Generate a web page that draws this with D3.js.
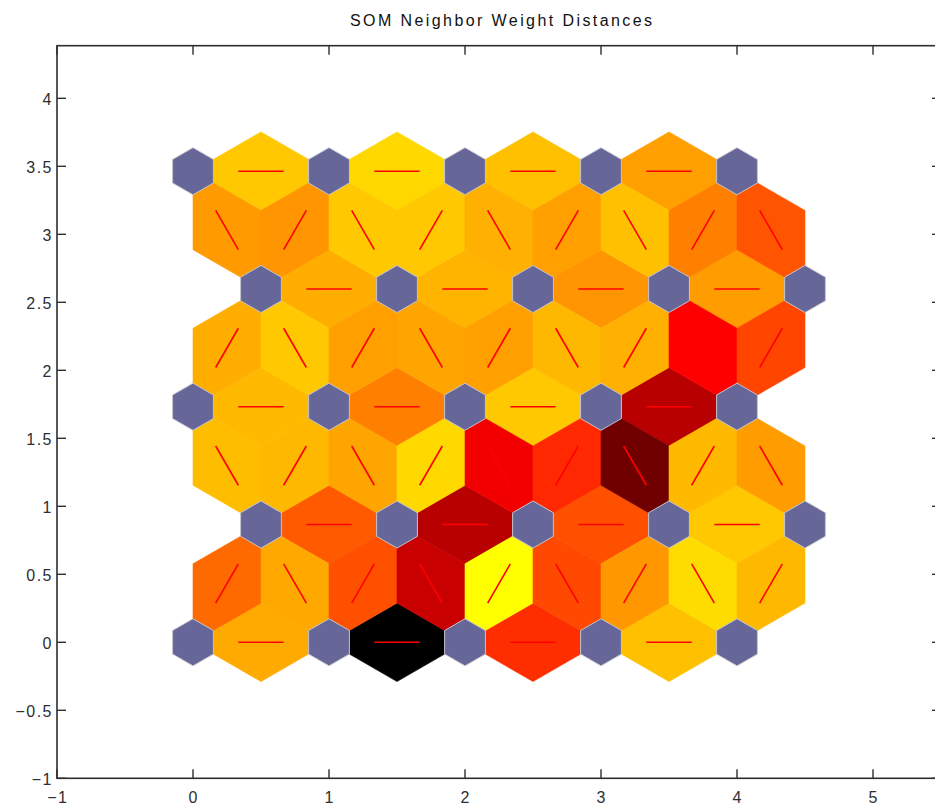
<!DOCTYPE html>
<html><head><meta charset="utf-8">
<script src="https://cdn.jsdelivr.net/npm/d3@7"></script>
<style>body{margin:0;background:#fff} svg{display:block}</style>
</head><body>
<svg id="chart" width="935" height="807"></svg>
<script>
// ---------------- data ----------------
const chartTitle = "SOM Neighbor Weight Distances";
const gridCols = 5;            // neurons per row (hexagonal topology)
const gridRows = 5;
const xTickValues = [-1, 0, 1, 2, 3, 4, 5];
const xTickLabels = ["−1", "0", "1", "2", "3", "4", "5"];
const yTickValues = [-1, -0.5, 0, 0.5, 1, 1.5, 2, 2.5, 3, 3.5, 4];
const yTickLabels = ["−1", "−0.5", "0", "0.5", "1", "1.5", "2", "2.5", "3", "3.5", "4"];
// normalised neighbour weight distances (0 = closest → yellow, 1 = farthest → black)
// horizontal neighbours, one array per neuron row (bottom to top), left to right
const horizDist = [
  [0.167, 1.000, 0.410, 0.124],
  [0.324, 0.639, 0.343, 0.108],
  [0.135, 0.249, 0.108, 0.639],
  [0.159, 0.147, 0.208, 0.194],
  [0.108, 0.076, 0.124, 0.188]
];
// diagonal neighbours between row r and r+1 (bottom to top), left to right
const diagDist = [
  [0.292, 0.171, 0.343, 0.608, 0.000, 0.359, 0.202, 0.069, 0.139],
  [0.129, 0.139, 0.176, 0.076, 0.525, 0.422, 0.780, 0.135, 0.194],
  [0.159, 0.108, 0.186, 0.176, 0.186, 0.139, 0.155, 0.500, 0.365],
  [0.196, 0.208, 0.108, 0.108, 0.155, 0.188, 0.124, 0.249, 0.333]
];

// ---------------- layout ----------------
const svg = d3.select("#chart");
const x = d3.scaleLinear().domain([-1, 5.5]).range([57, 941]);
const y = d3.scaleLinear().domain([-1, 4.387]).range([778.3, 45.7]);
const axisColor = "#2e2e2e";
const fontFam = "'Liberation Sans', Arial, Helvetica, sans-serif";

// colour map (hot, black→red→yellow)
const distColor = d => {
  const t = 1 - d;
  const r = Math.min(1, 2 * t), g = Math.max(0, 2 * t - 1);
  return d3.rgb(Math.round(r * 255), Math.round(g * 255), 0).formatHex();
};

// neuron positions (hextop)
const neurons = [];
for (let r = 0; r < gridRows; r++)
  for (let c = 0; c < gridCols; c++)
    neurons.push({r, c, px: c + (r % 2) * 0.5, py: r * Math.sqrt(0.75)});
const N = (r, c) => neurons[r * gridCols + c];

// edges
const edges = [];
for (let r = 0; r < gridRows; r++)
  for (let c = 0; c < gridCols - 1; c++)
    edges.push({a: N(r, c), b: N(r, c + 1), d: horizDist[r][c]});
for (let r = 0; r < gridRows - 1; r++) {
  const list = [];
  for (let c1 = 0; c1 < gridCols; c1++)
    for (let c2 = 0; c2 < gridCols; c2++) {
      const a = N(r, c1), b = N(r + 1, c2);
      if (Math.abs(Math.hypot(b.px - a.px, b.py - a.py) - 1) < 1e-6) list.push({a, b});
    }
  list.sort((p, q) => (p.a.px + p.b.px) - (q.a.px + q.b.px));
  list.forEach((e, i) => { e.d = diagDist[r][i]; edges.push(e); });
}
const k = Math.sqrt(3) / 6;
edges.forEach(e => {
  const ux = e.b.px - e.a.px, uy = e.b.py - e.a.py;
  const mx = (e.a.px + e.b.px) / 2, my = (e.a.py + e.b.py) / 2;
  const pxv = -uy * k, pyv = ux * k;
  e.poly = [[e.a.px, e.a.py], [mx + pxv, my + pyv], [e.b.px, e.b.py], [mx - pxv, my - pyv]];
  e.line = [[e.a.px + ux / 3, e.a.py + uy / 3], [e.a.px + 2 * ux / 3, e.a.py + 2 * uy / 3]];
});

const toPts = arr => arr.map(p => [x(p[0]), y(p[1])].join(",")).join(" ");

// patches
svg.append("g").selectAll("polygon").data(edges).join("polygon")
  .attr("points", e => toPts(e.poly))
  .attr("fill", e => distColor(e.d))
  .attr("stroke", e => distColor(e.d))
  .attr("stroke-width", 0.6)
  .attr("stroke-linejoin", "round");

// lines
svg.append("g").selectAll("line").data(edges).join("line")
  .attr("x1", e => x(e.line[0][0])).attr("y1", e => y(e.line[0][1]))
  .attr("x2", e => x(e.line[1][0])).attr("y2", e => y(e.line[1][1]))
  .attr("stroke", "#ff0000").attr("stroke-width", 1.6);

// neurons
const hexX = [-1, 0, 1, 1, 0, -1].map(v => v * 0.5 * 0.3);
const hexY = [1, 2, 1, -1, -2, -1].map(v => v * Math.sqrt(0.75) / 3 * 0.3);
svg.append("g").selectAll("polygon").data(neurons).join("polygon")
  .attr("points", n => toPts(hexX.map((hx, i) => [n.px + hx, n.py + hexY[i]])))
  .attr("fill", "#666699")
  .attr("stroke", "#c4c4cc")
  .attr("stroke-width", 1);

// axes box
const [x0, x1] = x.range(), [yb, yt] = y.range();
svg.append("rect").attr("x", x0).attr("y", yt).attr("width", x1 - x0).attr("height", yb - yt)
  .attr("fill", "none").attr("stroke", axisColor).attr("stroke-width", 1.6);

const tl = 9;
const gAx = svg.append("g").attr("stroke", axisColor).attr("stroke-width", 1.4);
xTickValues.forEach(v => {
  gAx.append("line").attr("x1", x(v)).attr("x2", x(v)).attr("y1", yb).attr("y2", yb - tl);
  gAx.append("line").attr("x1", x(v)).attr("x2", x(v)).attr("y1", yt).attr("y2", yt + tl);
});
yTickValues.forEach(v => {
  gAx.append("line").attr("x1", x0).attr("x2", x0 + tl).attr("y1", y(v)).attr("y2", y(v));
  gAx.append("line").attr("x1", x1).attr("x2", x1 - tl).attr("y1", y(v)).attr("y2", y(v));
});

// tick labels
svg.append("g").selectAll("text").data(xTickValues).join("text")
  .attr("x", v => x(v) + 0.75).attr("y", 803)
  .attr("text-anchor", "middle")
  .attr("font-family", fontFam).attr("font-size", 16).attr("letter-spacing", 1.5)
  .attr("fill", axisColor)
  .text((v, i) => xTickLabels[i]);
svg.append("g").selectAll("text").data(yTickValues).join("text")
  .attr("x", 53).attr("y", v => y(v) + 6.5)
  .attr("text-anchor", "end")
  .attr("font-family", fontFam).attr("font-size", 16).attr("letter-spacing", 1.5)
  .attr("fill", axisColor)
  .text((v, i) => yTickLabels[i]);

// title
svg.append("text").attr("x", 501).attr("y", 26)
  .attr("text-anchor", "middle")
  .attr("font-family", fontFam).attr("font-size", 16)
  .attr("textLength", 302).attr("lengthAdjust", "spacing")
  .attr("fill", "#111")
  .text(chartTitle);
</script>
</body></html>
